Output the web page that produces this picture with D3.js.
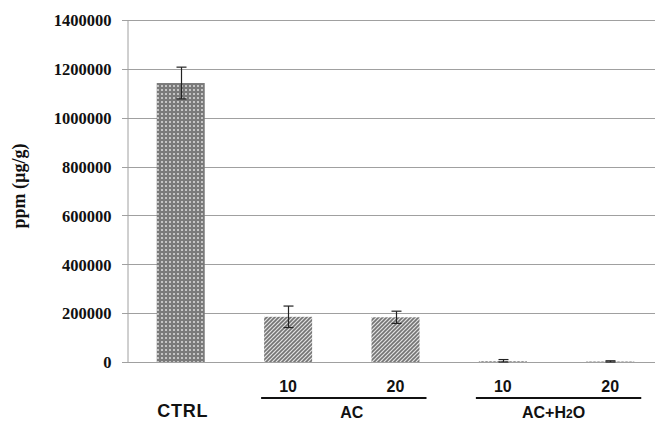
<!DOCTYPE html>
<html>
<head>
<meta charset="utf-8">
<script src="https://cdn.jsdelivr.net/npm/d3@7"></script>
<style>
  body { margin: 0; background: #fff; }
  svg { display: block; }
</style>
</head>
<body>
<div class="svgContainer"></div>
<script>
// values
let groups = ["CTRL", "AC 10", "AC 20", "ACH 10", "ACH 20"];
let means = [1142000, 185000, 183000, 3000, 2000];
let errors = [65000, 44000, 25000, 7000, 3000];
let patterns = ["dots", "hatch", "hatch", "hatch", "hatch"];
let yTicks = [0, 200000, 400000, 600000, 800000, 1000000, 1200000, 1400000];
let doseLabels = ["10", "20", "10", "20"];
let doseBars = ["AC 10", "AC 20", "ACH 10", "ACH 20"];

let w = 655;
let h = 422;

let xScale = d3.scaleBand()
    .domain(groups)
    .range([127, 664])
    .paddingInner(0.553)
    .paddingOuter(0.277);

let yScale = d3.scaleLinear()
    .domain([0, 1400000])
    .range([362, 20]);

const svg = d3.select(".svgContainer")
    .append("svg")
    .attr("width", w)
    .attr("height", h)
    .style("background-color", "white");

const defs = svg.append("defs");

let dots = defs.append("pattern")
    .attr("id", "dots")
    .attr("patternUnits", "userSpaceOnUse")
    .attr("width", 4)
    .attr("height", 4);
dots.append("rect").attr("width", 4).attr("height", 4).attr("fill", "#7a7a7a");
dots.append("rect").attr("x", 1).attr("y", 1).attr("width", 2).attr("height", 2).attr("fill", "#c4c4c4");

let hatch = defs.append("pattern")
    .attr("id", "hatch")
    .attr("patternUnits", "userSpaceOnUse")
    .attr("width", 4)
    .attr("height", 4);
hatch.append("rect").attr("width", 4).attr("height", 4).attr("fill", "#e2e2e2");
hatch.append("path")
    .attr("d", "M-1,1 L1,-1 M0,4 L4,0 M3,5 L5,3")
    .attr("stroke", "#747474")
    .attr("stroke-width", 1.6);

// gridlines
svg.append("g")
    .selectAll("line")
    .data(yTicks)
    .enter()
    .append("line")
    .attr("x1", 122)
    .attr("x2", w)
    .attr("y1", (d) => Math.round(yScale(d)) + 0.5)
    .attr("y2", (d) => Math.round(yScale(d)) + 0.5)
    .attr("stroke", "#a0a0a0")
    .attr("stroke-width", 1);

// y axis
const yAxis = d3.axisLeft(yScale)
    .tickValues(yTicks)
    .tickSize(0)
    .tickPadding(16)
    .tickFormat(d3.format("d"));

let yg = svg.append("g")
    .attr("id", "y-axis")
    .attr("transform", "translate(127.5, 0.5)")
    .call(yAxis);
yg.select(".domain").attr("stroke", "#a0a0a0");
yg.selectAll("text")
    .attr("font-family", "Liberation Serif, Times New Roman, serif")
    .attr("font-weight", "bold")
    .attr("font-size", 16.5)
    .attr("fill", "#111");

// bars
svg.append("g")
    .selectAll("rect")
    .data(groups)
    .enter()
    .append("rect")
    .attr("x", (d) => xScale(d))
    .attr("y", (d, i) => yScale(means[i]))
    .attr("width", xScale.bandwidth())
    .attr("height", (d, i) => yScale(0) - yScale(means[i]))
    .attr("fill", (d, i) => "url(#" + patterns[i] + ")");

// error bars
let eb = svg.append("g")
    .attr("stroke", "#222")
    .attr("stroke-width", 1.2);
groups.forEach((g, i) => {
    let cx = Math.round(xScale(g) + xScale.bandwidth() / 2) + 0.5;
    let top = yScale(means[i] + errors[i]);
    let bot = yScale(Math.max(0, means[i] - errors[i]));
    eb.append("line").attr("x1", cx).attr("x2", cx).attr("y1", top).attr("y2", bot);
    eb.append("line").attr("x1", cx - 5).attr("x2", cx + 5).attr("y1", top).attr("y2", top);
    eb.append("line").attr("x1", cx - 5).attr("x2", cx + 5).attr("y1", bot).attr("y2", bot);
});

// category labels
let sans = "Liberation Sans, Arial, sans-serif";
let center = (g) => xScale(g) + xScale.bandwidth() / 2;

svg.append("g")
    .selectAll("text")
    .data(doseBars)
    .enter()
    .append("text")
    .attr("x", (d) => center(d))
    .attr("y", 392)
    .attr("text-anchor", "middle")
    .attr("font-family", sans)
    .attr("font-weight", "bold")
    .attr("font-size", 16)
    .attr("fill", "#111")
    .text((d, i) => doseLabels[i]);

svg.append("text")
    .attr("x", center("CTRL") + 2)
    .attr("y", 417)
    .attr("text-anchor", "middle")
    .attr("font-family", sans)
    .attr("font-weight", "bold")
    .attr("font-size", 18)
    .attr("letter-spacing", 0.8)
    .attr("fill", "#111")
    .text("CTRL");

// group underlines
let pairs = [["AC 10", "AC 20"], ["ACH 10", "ACH 20"]];
svg.append("g")
    .selectAll("line")
    .data(pairs)
    .enter()
    .append("line")
    .attr("x1", (d) => xScale(d[0]) - 3)
    .attr("x2", (d) => xScale(d[1]) + xScale.bandwidth() + 7)
    .attr("y1", 398)
    .attr("y2", 398)
    .attr("stroke", "#111")
    .attr("stroke-width", 2);

svg.append("text")
    .attr("x", (center("AC 10") + center("AC 20")) / 2 + 10)
    .attr("y", 418)
    .attr("text-anchor", "middle")
    .attr("font-family", sans)
    .attr("font-weight", "bold")
    .attr("font-size", 16)
    .attr("fill", "#111")
    .text("AC");

let ach = svg.append("text")
    .attr("x", (center("ACH 10") + center("ACH 20")) / 2 - 3)
    .attr("y", 418)
    .attr("text-anchor", "middle")
    .attr("font-family", sans)
    .attr("font-weight", "bold")
    .attr("font-size", 16)
    .attr("fill", "#111");
ach.append("tspan").text("AC+H");
ach.append("tspan").attr("font-size", 12).text("2");
ach.append("tspan").text("O");

// y title
svg.append("text")
    .attr("transform", "translate(25, 186) rotate(-90)")
    .attr("text-anchor", "middle")
    .attr("font-family", "Liberation Serif, Times New Roman, serif")
    .attr("font-weight", "bold")
    .attr("font-size", 18)
    .attr("fill", "#111")
    .text("ppm (µg/g)");
</script>
</body>
</html>
